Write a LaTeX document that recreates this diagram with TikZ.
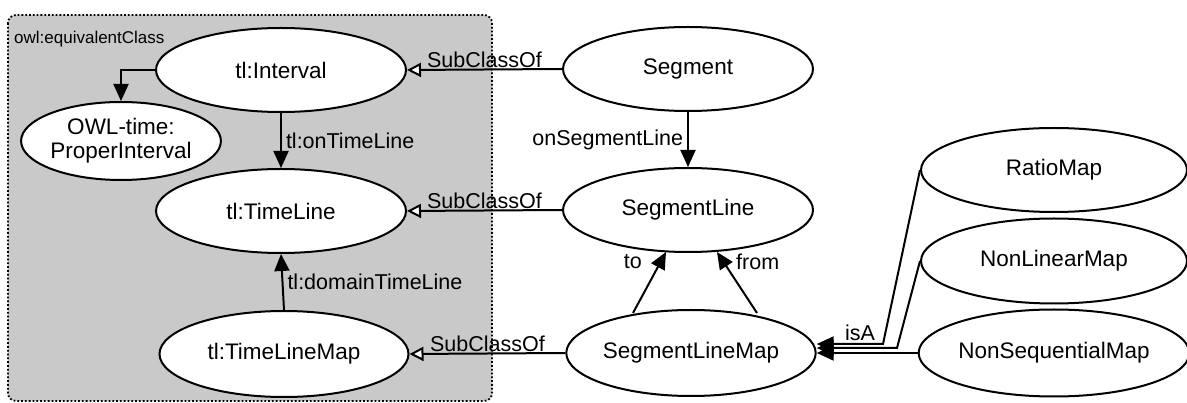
\documentclass[tikz,border=0pt]{standalone}
\usepackage{fontspec}
\setmainfont{Liberation Sans}
\usetikzlibrary{shapes.geometric,arrows.meta}
\definecolor{boxgray}{HTML}{C9C9C9}
\tikzset{
  cls/.style={ellipse, draw, line width=2pt, fill=white, inner sep=0pt,
    font=\fontsize{22.5}{25}\selectfont, text=black},
  rel/.style={line width=2pt, -{Triangle[length=17pt,width=15pt]}},
  sub/.style={line width=2pt, -{Triangle[open,length=14pt,width=14pt,fill=white]}},
  lbl/.style={font=\fontsize{21.5}{24}\selectfont, inner sep=1pt}
}
\begin{document}
\begin{tikzpicture}[x=1pt,y=-1pt]
\useasboundingbox (0,0) rectangle (1187,403);
% equivalent-class group
\draw[fill=boxgray, dotted, line width=1.8pt, rounded corners=8pt] (8,15) rectangle (492,401);
\node[anchor=west, font=\fontsize{17}{19}\selectfont, inner sep=0pt] (eqlabel) at (14,39) {owl:equivalentClass};

% classes
\node[cls, minimum width=250pt, minimum height=84pt] (interval) at (281,70) {tl:Interval};
\node[cls, minimum width=172pt, minimum height=78pt, align=center,
      font=\fontsize{22.5}{24}\selectfont] (proper) at (121,141) {OWL-time:\\ProperInterval};
\node[cls, minimum width=250pt, minimum height=84pt] (timeline) at (281,211) {tl:TimeLine};
\node[cls, minimum width=249pt, minimum height=86pt] (tlmap) at (284,354) {tl:TimeLineMap};
\node[cls, minimum width=250pt, minimum height=84pt] (segment) at (688,69) {Segment};
\node[cls, minimum width=250pt, minimum height=84pt] (segline) at (688,210) {SegmentLine};
\node[cls, minimum width=249pt, minimum height=86pt] (seglinemap) at (691,353) {SegmentLineMap};
\node[cls, minimum width=266pt, minimum height=84pt] (ratio) at (1054,170) {RatioMap};
\node[cls, minimum width=266pt, minimum height=85pt] (nonlinear) at (1054,261) {NonLinearMap};
\node[cls, minimum width=266pt, minimum height=87pt] (nonseq) at (1054,353) {NonSequentialMap};

% subclass links
\draw[sub] (segment.west) -- node[lbl, above, pos=0.5] {SubClassOf} (interval.east);
\draw[sub] (segline.west) -- node[lbl, above, pos=0.5] {SubClassOf} (timeline.east);
\draw[sub] (seglinemap.west) -- node[lbl, above, pos=0.5] {SubClassOf} (tlmap.east);

% properties
\draw[rel] (interval.west) -| (proper.north);
\draw[rel] (interval.south) -- node[lbl, right, xshift=3pt] {tl:onTimeLine} (timeline.north);
\draw[rel] (tlmap.north) -- node[lbl, right, xshift=3pt] {tl:domainTimeLine} (timeline.south);
\draw[rel] (segment.south) -- node[lbl, left, xshift=-3pt] {onSegmentLine} (segline.north);

\coordinate (toS) at (633,313);
\coordinate (toE) at (666,252);
\coordinate (frS) at (757,313);
\coordinate (frE) at (717,252);
\draw[rel] (toS) -- (toE);
\draw[rel] (frS) -- (frE);
\node[lbl, anchor=east] (tolbl) at (643,262) {to};
\node[lbl, anchor=west] (frlbl) at (735,262) {from};

% isA links
\coordinate (ra) at (883,344);
\coordinate (nl) at (897,348);
\draw[rel] (ratio.west) -- (ra) -- (seglinemap.east |- ra);
\draw[rel] (nonlinear.west) -- (nl) -- (seglinemap.east |- nl);
\draw[rel] (nonseq.west) -- (seglinemap.east |- nonseq.west);
\node[lbl, anchor=south] (isa) at (860,342) {isA};
\end{tikzpicture}
\end{document}
